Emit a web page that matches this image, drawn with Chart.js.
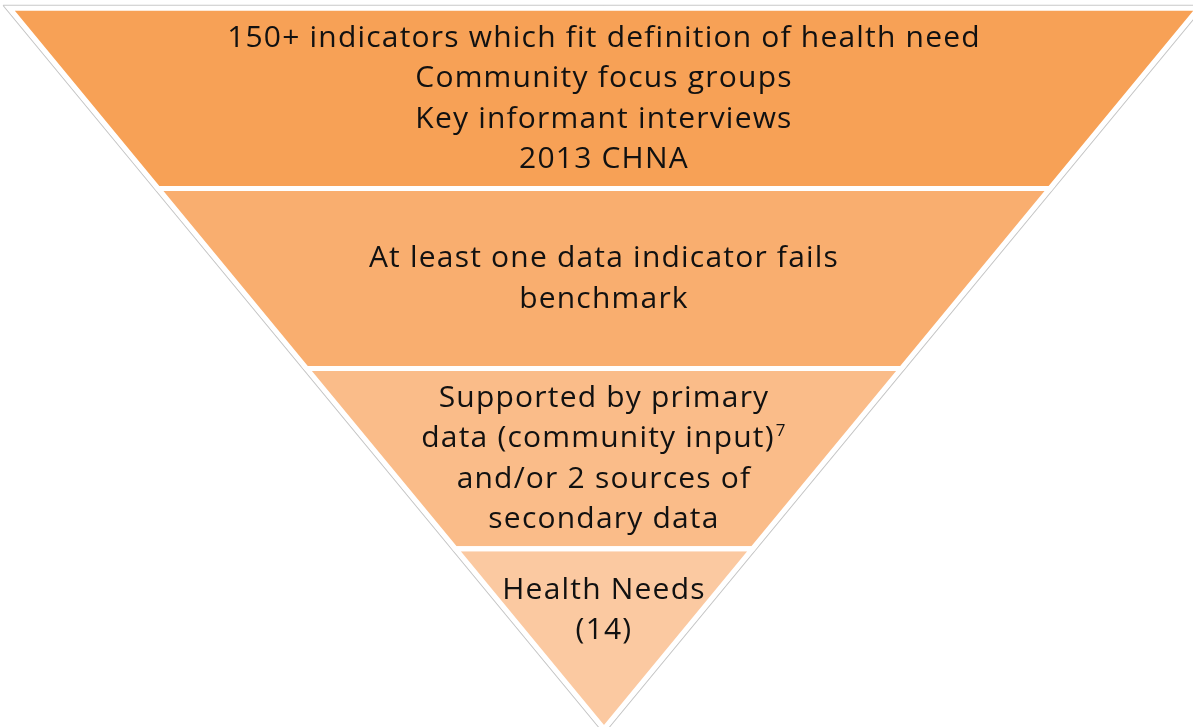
<!DOCTYPE html>
<html>
<head>
<meta charset="utf-8">
<script src="https://cdn.jsdelivr.net/npm/chart.js@4.4.1/dist/chart.umd.min.js"></script>
<style>
  html, body { margin: 0; padding: 0; background: #ffffff; }
  #wrap { width: 1193px; height: 727px; position: relative; }
</style>
</head>
<body>
<div id="wrap"><canvas id="c"></canvas></div>
<script>
// ---- data ----
const tierNames = ["Indicators & input", "Fails benchmark", "Supported by data", "Health Needs"];
const tierShare = [25, 25, 25, 25];           // share of the funnel height per stage
const tierText = [
  ["150+ indicators which fit definition of health need", "Community focus groups", "Key informant interviews", "2013 CHNA"],
  ["At least one data indicator fails", "benchmark"],
  ["Supported by primary", "data (community input)^7", "and/or 2 sources of", "secondary data"],
  ["Health Needs", "(14)"]
];

// ---- styles ----
const tierColors = ["#F7A156", "#F9AE6F", "#FABC89", "#FBC9A1"];
const FONT_FAMILY = "'Open Sans', Lato, sans-serif";
const FONT_SIZE = 30;
const SUP_SIZE = 17;
const LINE_H = 40.5;
const LETTER_SP = '1.2px';

// cumulative boundaries (top -> bottom)
const total = tierShare.reduce((a, b) => a + b, 0);
const bounds = [total];
tierShare.forEach(s => bounds.push(bounds[bounds.length - 1] - s));

// funnel: half-width equals level
function tierPolygon(top, bot) {
  return [
    {x: 0, y: top}, {x: top, y: top}, {x: bot, y: bot},
    {x: -bot, y: bot}, {x: -top, y: top}, {x: 0, y: top}
  ];
}

const datasets = tierNames.map((name, i) => ({
  label: name,
  data: tierPolygon(bounds[i], bounds[i + 1]),
  showLine: true,
  fill: 'shape',
  backgroundColor: tierColors[i],
  borderColor: '#ffffff',
  borderWidth: 5,
  borderJoinStyle: 'miter',
  pointRadius: 0,
  tension: 0
}));

// light gray frame around the funnel
const fTop = total + 0.4, fOff = 0.66;
datasets.push({
  label: 'frame',
  data: [
    {x: -(fTop + fOff), y: fTop}, {x: fTop + fOff, y: fTop},
    {x: 0, y: -fOff}, {x: -(fTop + fOff), y: fTop}
  ],
  showLine: true,
  fill: false,
  borderColor: '#c8c8c8',
  borderWidth: 1.2,
  pointRadius: 0,
  tension: 0,
  clip: 20
});

const textPlugin = {
  id: 'tierText',
  afterDatasetsDraw(chart) {
    const ctx = chart.ctx;
    const xs = chart.scales.x, ys = chart.scales.y;
    const cx = xs.getPixelForValue(0);
    ctx.save();
    ctx.fillStyle = '#111111';
    ctx.textBaseline = 'alphabetic';
    ctx.textAlign = 'left';
    if ('letterSpacing' in ctx) ctx.letterSpacing = LETTER_SP;
    tierText.forEach((lines, i) => {
      const top = bounds[i], bot = bounds[i + 1];
      const centerLevel = bot === 0 ? bot + (top - bot) * 0.66 : (top + bot) / 2;
      const cy = ys.getPixelForValue(centerLevel);
      const n = lines.length;
      lines.forEach((line, k) => {
        const base = cy + 9 + (k - (n - 1) / 2) * LINE_H;
        const parts = line.split('^');
        ctx.font = FONT_SIZE + 'px ' + FONT_FAMILY;
        const w1 = ctx.measureText(parts[0]).width;
        let w2 = 0;
        if (parts[1]) {
          ctx.font = SUP_SIZE + 'px ' + FONT_FAMILY;
          w2 = ctx.measureText(parts[1]).width + 1;
        }
        const x0 = cx - (w1 + w2) / 2;
        ctx.font = FONT_SIZE + 'px ' + FONT_FAMILY;
        ctx.fillText(parts[0], x0, base);
        if (parts[1]) {
          ctx.font = SUP_SIZE + 'px ' + FONT_FAMILY;
          ctx.fillText(parts[1], x0 + w1 + 1, base - 11);
        }
      });
    });
    ctx.restore();
  }
};

new Chart(document.getElementById('c'), {
  type: 'scatter',
  data: { datasets },
  options: {
    responsive: true,
    maintainAspectRatio: false,
    animation: false,
    events: [],
    layout: { padding: 0 },
    plugins: {
      legend: { display: false },
      tooltip: { enabled: false },
      filler: { drawTime: 'beforeDatasetsDraw' }
    },
    scales: {
      x: { type: 'linear', display: false, min: -101.58, max: 99.06 },
      y: { type: 'linear', display: false, min: 0.26, max: 101.14 }
    }
  },
  plugins: [textPlugin]
});
</script>
</body>
</html>
